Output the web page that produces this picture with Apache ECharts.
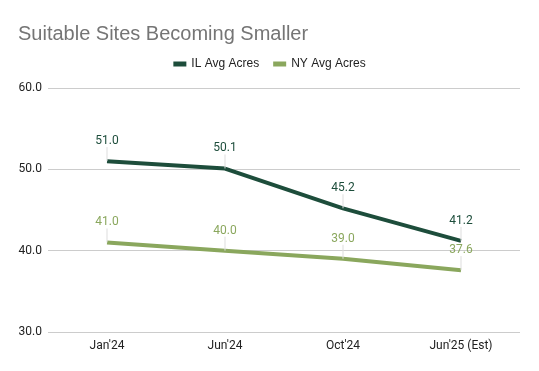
<!DOCTYPE html>
<html><head><meta charset="utf-8">
<script src="https://cdn.jsdelivr.net/npm/echarts@6/dist/echarts.min.js"></script>
<style>html,body{margin:0;padding:0;background:#fff}#c{width:539px;height:371px}</style>
</head><body><div id="c"></div>
<script>
const categories = ["Jan'24", "Jun'24", "Oct'24", "Jun'25 (Est)"];
const ilValues = [51.0, 50.1, 45.2, 41.2];
const nyValues = [41.0, 40.0, 39.0, 37.6];
const yTicks = [30, 40, 50, 60];
const seriesNames = ['IL Avg Acres', 'NY Avg Acres'];
const colors = ['#1d4d3b', '#8aa75d'];

const chart = echarts.init(document.getElementById('c'));
function mk(name, data, color) {
  return {
    name, type: 'line', data,
    symbol: 'circle', symbolSize: 0.1, showSymbol: true, smooth: false,
    lineStyle: { width: 4, color },
    itemStyle: { color },
    label: {
      show: true, position: 'top', distance: 4,
      formatter: p => p.value.toFixed(1),
      fontFamily: 'Roboto', fontSize: 12, color
    },
    labelLayout: { dy: -10 },
    labelLine: { show: true, lineStyle: { color: '#dddddd', width: 1 } }
  };
}
chart.setOption({
  animation: false,
  title: {
    text: 'Suitable Sites Becoming Smaller', left: 13, top: 19,
    textStyle: { fontFamily: 'Liberation Sans', fontSize: 20, fontWeight: 'normal', color: '#757575' }
  },
  legend: {
    top: 53, left: 'center', itemWidth: 13, itemHeight: 5, itemGap: 14,
    icon: 'rect',
    textStyle: { fontFamily: 'Liberation Sans', fontSize: 12, color: '#222' },
    data: seriesNames
  },
  grid: { left: 48, right: 19, top: 88, bottom: 39 },
  xAxis: {
    type: 'category', data: categories, boundaryGap: true,
    axisLine: { show: false }, axisTick: { show: false },
    axisLabel: { fontFamily: 'Roboto', fontSize: 12, color: '#222', margin: 8 }
  },
  yAxis: {
    type: 'value', min: yTicks[0], max: yTicks[yTicks.length - 1], interval: 10,
    axisLabel: { fontFamily: 'Roboto', fontSize: 12, color: '#222', formatter: v => v.toFixed(1), margin: 6 },
    splitLine: { lineStyle: { color: '#cccccc' } }
  },
  series: [mk(seriesNames[0], ilValues, colors[0]), mk(seriesNames[1], nyValues, colors[1])]
});
</script></body></html>
